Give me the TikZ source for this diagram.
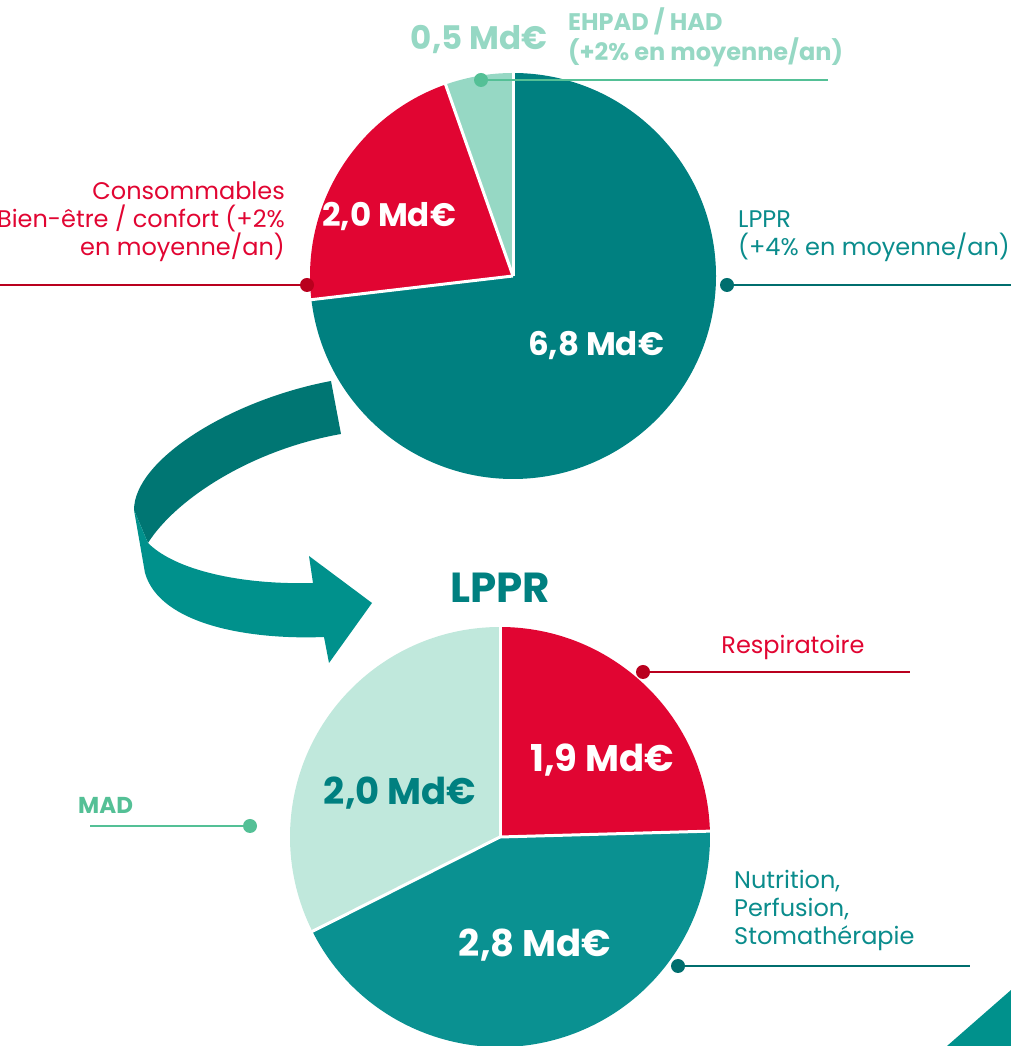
\documentclass[tikz,border=0pt]{standalone}
\usepackage{fontspec}
\setmainfont{Poppins}
\definecolor{tealTop}{RGB}{0,128,128}
\definecolor{tealBot}{RGB}{10,145,145}
\definecolor{redM}{RGB}{225,5,50}
\definecolor{lightTop}{RGB}{150,216,196}
\definecolor{lightBot}{RGB}{192,232,220}
\definecolor{lineGreen}{RGB}{84,192,150}
\definecolor{darkRed}{RGB}{185,0,30}
\definecolor{lineTeal}{RGB}{0,110,110}
\definecolor{arrowDark}{RGB}{0,118,115}
\definecolor{arrowLight}{RGB}{0,145,140}
\definecolor{labTeal}{RGB}{10,140,140}
\begin{document}
\begin{tikzpicture}[x=1pt,y=1pt,
  val/.style={font=\fontsize{32.5}{36}\selectfont\bfseries, inner sep=0pt},
  bigval/.style={font=\fontsize{37}{42}\selectfont\bfseries, inner sep=0pt},
  lab/.style={font=\fontsize{24}{28}\selectfont, inner sep=0pt},
  leader/.style={line width=2.2pt},
  dot/.style={circle, inner sep=0pt, minimum size=14pt},
  sep/.style={white, line width=3pt}]
\useasboundingbox (0,0) rectangle (1011,1046);
% top pie
\coordinate (c1) at (513,770);
\fill[tealTop] (c1) -- ++(90:203) arc[start angle=90, end angle=-173.3, radius=203] -- cycle;
\fill[redM] (c1) -- ++(109.4:203) arc[start angle=109.4, end angle=186.7, radius=203] -- cycle;
\fill[lightTop] (c1) -- ++(90:203) arc[start angle=90, end angle=109.4, radius=203] -- cycle;
\draw[sep] (c1) -- ++(90:205);
\draw[sep] (c1) -- ++(109.4:205);
\draw[sep] (c1) -- ++(186.7:205);
% bottom pie
\coordinate (c2) at (500,209);
\fill[redM] (c2) -- ++(1.6:210) arc[start angle=1.6, end angle=90, radius=210] -- cycle;
\fill[lightBot] (c2) -- ++(90:210) arc[start angle=90, end angle=206.7, radius=210] -- cycle;
\fill[tealBot] (c2) -- ++(206.7:210) arc[start angle=206.7, end angle=361.6, radius=210] -- cycle;
\draw[sep] (c2) -- ++(90:212);
\draw[sep] (c2) -- ++(206.7:212);
\draw[sep] (c2) -- ++(1.6:212);
% arrow
\fill[arrowDark] (331,665) .. controls (230,646) and (134,586) .. (134,536) -- (148,503) .. controls (175,546) and (250,596) .. (341,612) -- cycle;
\fill[arrowLight] (134,536) -- (148,503) .. controls (175,476) and (240,461) .. (313,463) -- (309,490) -- (372,443) -- (329,383) -- (324,409) .. controls (250,406) and (160,421) .. (145,473) -- cycle;
% corner
\fill[arrowLight] (947,0) -- (1011,56) -- (1011,0) -- cycle;
% values
\node[val, lightTop] (v05) at (479,1006) {0,5 Md€};
\node[val, white] (v20a) at (389,830) {2,0 Md€};
\node[val, white] (v68) at (596,700) {6,8 Md€};
\node[bigval, white] (v19) at (602,286) {1,9 Md€};
\node[bigval, tealTop] (v20b) at (400,253) {2,0 Md€};
\node[bigval, white] (v28) at (535,101) {2,8 Md€};
\node[font=\fontsize{42}{46}\selectfont\bfseries, tealTop, inner sep=0pt] (title) at (500,458) {LPPR};
% labels
\node[lab, lightTop, font=\fontsize{24}{30}\selectfont\bfseries, align=left, anchor=west] (ehpad) at (568,1009) {EHPAD / HAD\\(+2\% en moyenne/an)};
\node[lab, redM, align=right, anchor=east] (conso) at (285,824) {Consommables\\Bien-être / confort (+2\%\\en moyenne/an)};
\node[lab, labTeal, align=left, anchor=west] (lppr) at (738,810) {LPPR\\(+4\% en moyenne/an)};
\node[lab, redM, anchor=center] (resp) at (793,399) {Respiratoire};
\node[lab, lineGreen, font=\fontsize{23}{28}\selectfont\bfseries, anchor=west] (mad) at (78,241) {MAD};
\node[lab, labTeal, align=left, anchor=west] (nutri) at (734,136) {Nutrition,\\Perfusion,\\Stomathérapie};
% leaders
\node[dot, fill=lineGreen] (d1) at (481,966) {};
\coordinate (e1) at (828,966);
\draw[leader, lineGreen] (d1) -- (e1);
\node[dot, fill=darkRed] (d2) at (307,761) {};
\coordinate (e2) at (0,761);
\draw[leader, darkRed] (d2) -- (e2);
\node[dot, fill=lineTeal] (d3) at (727,761) {};
\coordinate (e3) at (1011,761);
\draw[leader, lineTeal] (d3) -- (e3);
\node[dot, fill=darkRed] (d4) at (643,374) {};
\coordinate (e4) at (910,374);
\draw[leader, darkRed] (d4) -- (e4);
\node[dot, fill=lineGreen] (d5) at (250,220) {};
\coordinate (e5) at (90,220);
\draw[leader, lineGreen] (d5) -- (e5);
\node[dot, fill=lineTeal] (d6) at (678,80) {};
\coordinate (e6) at (970,80);
\draw[leader, lineTeal] (d6) -- (e6);
\end{tikzpicture}
\end{document}
